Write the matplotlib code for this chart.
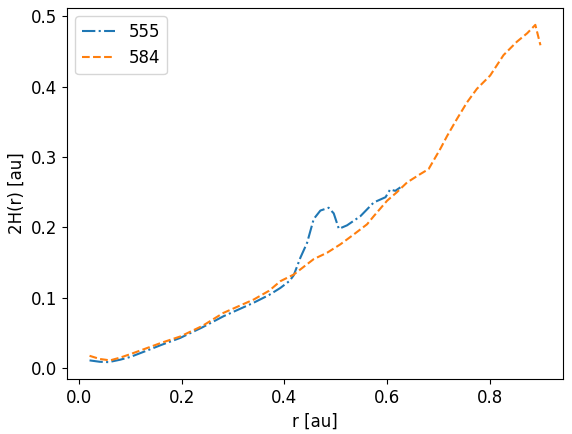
import matplotlib
matplotlib.use("Agg")
import matplotlib.pyplot as plt

plt.rcParams['font.size'] = 12

r_555 = [0.020, 0.040, 0.057, 0.080, 0.100, 0.132, 0.160, 0.197, 0.240, 0.281, 0.340,
         0.370, 0.392, 0.410, 0.418, 0.431, 0.444, 0.457, 0.470, 0.486, 0.496, 0.506,
         0.522, 0.548, 0.574, 0.597, 0.606, 0.616, 0.626]
h_555 = [0.011, 0.009, 0.0085, 0.012, 0.016, 0.025, 0.033, 0.043, 0.058, 0.0737, 0.093,
         0.104, 0.114, 0.124, 0.132, 0.157, 0.178, 0.212, 0.224, 0.228, 0.220, 0.198,
         0.203, 0.216, 0.2355, 0.243, 0.254, 0.252, 0.257]

r_584 = [0.020, 0.040, 0.060, 0.080, 0.100, 0.132, 0.160, 0.197, 0.240, 0.281, 0.340,
         0.370, 0.392, 0.418, 0.457, 0.483, 0.509, 0.535, 0.561, 0.574, 0.600, 0.619,
         0.639, 0.665, 0.681, 0.704, 0.717, 0.736, 0.756, 0.775, 0.801, 0.827, 0.853,
         0.873, 0.889, 0.899]
h_584 = [0.0175, 0.013, 0.011, 0.015, 0.020, 0.0285, 0.036, 0.045, 0.060, 0.0785, 0.0975,
         0.110, 0.1236, 0.133, 0.155, 0.164, 0.176, 0.190, 0.2045, 0.216, 0.238, 0.250,
         0.264, 0.276, 0.283, 0.312, 0.330, 0.354, 0.378, 0.397, 0.416, 0.445, 0.464,
         0.476, 0.488, 0.459]

labels = ["555", "584"]

fig = plt.figure(figsize=(5.72, 4.34), dpi=100)
ax = fig.add_axes([67/572, 1-379/434, (563-67)/572, (379-8)/434])
ax.plot(r_555, h_555, linestyle='-.', color='#1f77b4', label=labels[0])
ax.plot(r_584, h_584, linestyle='--', color='#ff7f0e', label=labels[1])
ax.set_xlabel("r [au]")
ax.set_ylabel("2H(r) [au]")
ax.legend(loc='upper left')
fig.savefig("out.png", dpi=100)
